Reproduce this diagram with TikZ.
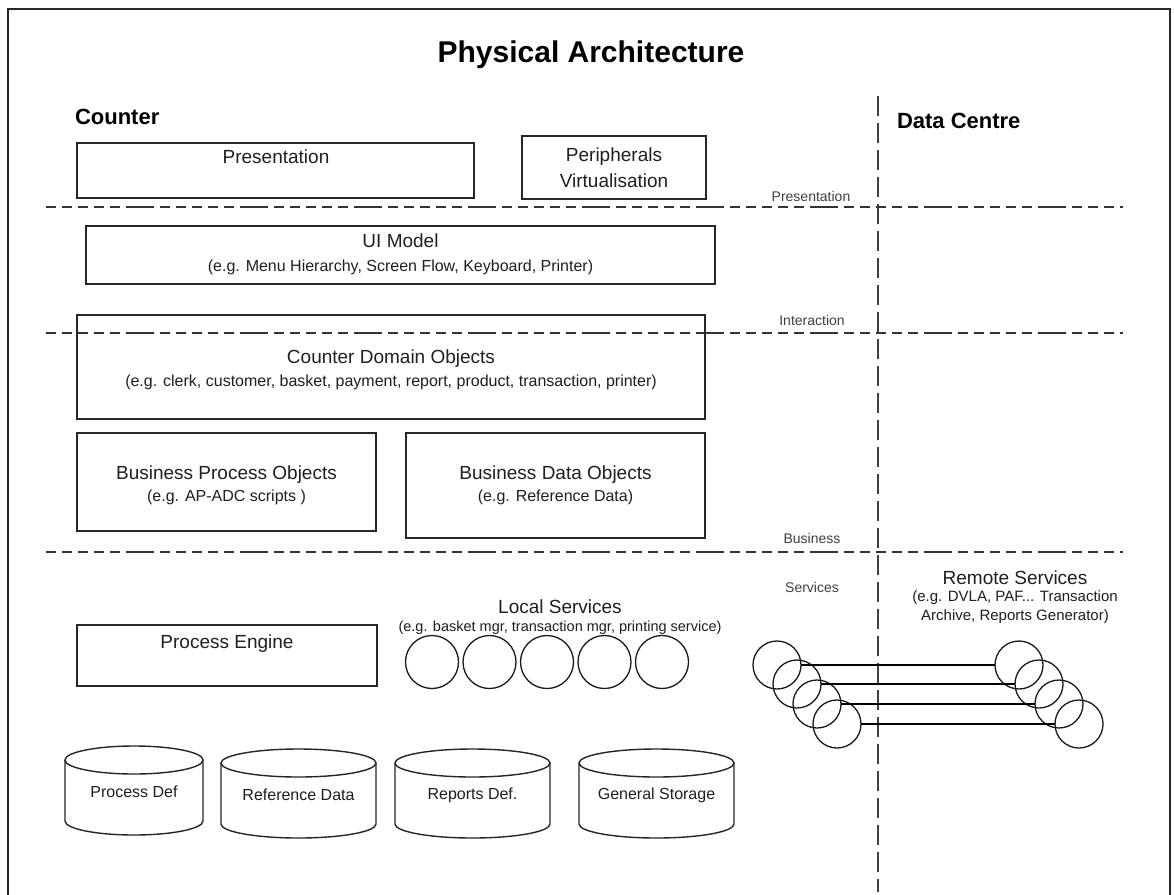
\documentclass[tikz,border=0pt]{standalone}
\usepackage{fontspec}
\setmainfont{Liberation Sans}
\begin{document}
\begin{tikzpicture}[x=1pt,y=-1pt,
  txt/.style={text=black!88, inner sep=0pt, outer sep=0pt},
  lab/.style={txt, font=\fontsize{19}{22}\selectfont},
  sub/.style={txt, font=\fontsize{16}{19}\selectfont},
  subs/.style={txt, font=\fontsize{14.5}{17}\selectfont},
  small/.style={txt, text=black!75, font=\fontsize{14}{16}\selectfont},
  head/.style={txt, text=black, font=\bfseries\fontsize{22}{26}\selectfont},
  box/.style={draw=black!85, line width=1.6pt, inner sep=0pt, outer sep=0pt},
  svc/.style={draw=black!90, line width=1.3pt, circle, inner sep=0pt, outer sep=0pt},
  layer/.style={draw=black!80, line width=2pt,
    dash pattern=on 10pt off 6pt on 10pt off 6pt on 10pt off 6pt on 10pt off 6pt on 10pt off 6pt on 28pt off 6pt},
  split/.style={draw=black!75, line width=2.6pt, dash pattern=on 20pt off 7pt},
  link/.style={draw=black, line width=1.3pt},
  cyl/.style={draw=black!85, line width=1.4pt}
]
\useasboundingbox (0,0) rectangle (1174,894);
\fill[white] (0,0) rectangle (1174,894);

% outer frame
\draw[black!85, line width=2.5pt] (8,900) -- (8,9) -- (1170,9) -- (1170,900);

% headings
\node[txt, text=black, font=\bfseries\fontsize{30}{34}\selectfont] (title) at (591,55) {Physical Architecture};
\node[head, anchor=west] (counter) at (75,117) {Counter};
\node[head, anchor=west] (dc) at (897,121) {Data Centre};

% separators
\coordinate (vt) at (878,96);
\coordinate (vb) at (878,892);
\draw[split] (vt) -- (vb);
\coordinate (h1a) at (46,207);  \coordinate (h1b) at (1123,207);
\coordinate (h2a) at (46,333);  \coordinate (h2b) at (1123,333);
\coordinate (h3a) at (46,552);  \coordinate (h3b) at (1123,552);
\draw[layer] (h1a) -- (h1b);
\draw[layer] (h2a) -- (h2b);
\draw[layer] (h3a) -- (h3b);

% layer labels
\node[small] (lpres) at (811,196) {Presentation};
\node[small] (linter) at (812,320) {Interaction};
\node[small] (lbus) at (812,538) {Business};
\node[small] (lserv) at (812,587) {Services};

% presentation layer
\node[box, minimum width=397pt, minimum height=55pt] (pres) at (275.5,170.5) {};
\node[lab] (prest) at (276,157) {Presentation};
\node[box, minimum width=184pt, minimum height=63pt] (peri) at (614,167.5) {};
\node[lab] (perit1) at (614,157) {Peripherals};
\node[lab] (perit2) at (614,181) {Virtualisation};

% interaction layer
\node[box, minimum width=629pt, minimum height=58pt] (ui) at (400.5,255) {};
\node[lab] (uit) at (400.5,241) {UI Model};
\node[sub] (uis) at (400.5,267) {(e.g. Menu Hierarchy, Screen Flow, Keyboard, Printer)};

% business layer
\node[box, minimum width=628pt, minimum height=104pt] (cdo) at (391,367) {};
\node[lab] (cdot) at (391,359) {Counter Domain Objects};
\node[sub] (cdos) at (391,382) {(e.g. clerk, customer, basket, payment, report, product, transaction, printer)};

\node[box, minimum width=299pt, minimum height=98pt] (bpo) at (226.5,482) {};
\node[lab] (bpot) at (226.5,475) {Business Process Objects};
\node[sub] (bpos) at (226.5,497) {(e.g. AP-ADC scripts )};

\node[box, minimum width=299pt, minimum height=105pt] (bdo) at (555.5,485.5) {};
\node[lab] (bdot) at (555.5,475) {Business Data Objects};
\node[sub] (bdos) at (555.5,497) {(e.g. Reference Data)};

% services layer
\node[box, minimum width=300pt, minimum height=61pt] (peng) at (227,655.5) {};
\node[lab] (pengt) at (227,644) {Process Engine};

\node[lab] (lst) at (560,607) {Local Services};
\node[subs] (lss) at (560,628) {(e.g. basket mgr, transaction mgr, printing service)};
\foreach \i/\x in {1/432,2/489.5,3/547,4/604.5,5/662}
  \node[svc, minimum size=53pt] (ls\i) at (\x,662) {};

\node[lab] (rst) at (1015,578) {Remote Services};
\node[txt, font=\fontsize{15}{18}\selectfont] (rss1) at (1015,598) {(e.g. DVLA, PAF... Transaction};
\node[txt, font=\fontsize{15}{18}\selectfont] (rss2) at (1015,617) {Archive, Reports Generator)};

\node[svc, minimum size=48pt] (l1) at (777,665) {};
\node[svc, minimum size=48pt] (l2) at (797,684) {};
\node[svc, minimum size=48pt] (l3) at (817,704) {};
\node[svc, minimum size=48pt] (l4) at (837,724) {};
\node[svc, minimum size=48pt] (r1) at (1019,665) {};
\node[svc, minimum size=48pt] (r2) at (1039,684) {};
\node[svc, minimum size=48pt] (r3) at (1059,704) {};
\node[svc, minimum size=48pt] (r4) at (1079,724) {};
\draw[link] (l1.east) -- (r1.west);
\draw[link] (l2.east) -- (r2.west);
\draw[link] (l3.east) -- (r3.west);
\draw[link] (l4.east) -- (r4.west);

% storage cylinders: #1 name, #2 left, #3 right, #4 top, #5 bottom, #6 text
\newcommand\dbcyl[6]{%
  \pgfmathsetmacro\cx{(#2+#3)/2}%
  \pgfmathsetmacro\rx{(#3-#2)/2}%
  \draw[cyl] (\cx,#4+14) ellipse [x radius=\rx pt, y radius=14pt];
  \draw[cyl] (#2,#4+14) -- (#2,#5-14)
     arc[start angle=180, end angle=360, x radius=\rx pt, y radius=14pt]
     -- (#3,#4+14);
  \node[txt, font=\fontsize{16}{19}\selectfont] (#1) at (\cx,#4+46) {#6};
}
\dbcyl{db1}{65}{203}{746}{835}{Process Def}
\dbcyl{db2}{221}{376}{749}{838}{Reference Data}
\dbcyl{db3}{395}{550}{749}{838}{Reports Def.}
\dbcyl{db4}{579}{734}{749}{838}{General Storage}
\end{tikzpicture}
\end{document}
